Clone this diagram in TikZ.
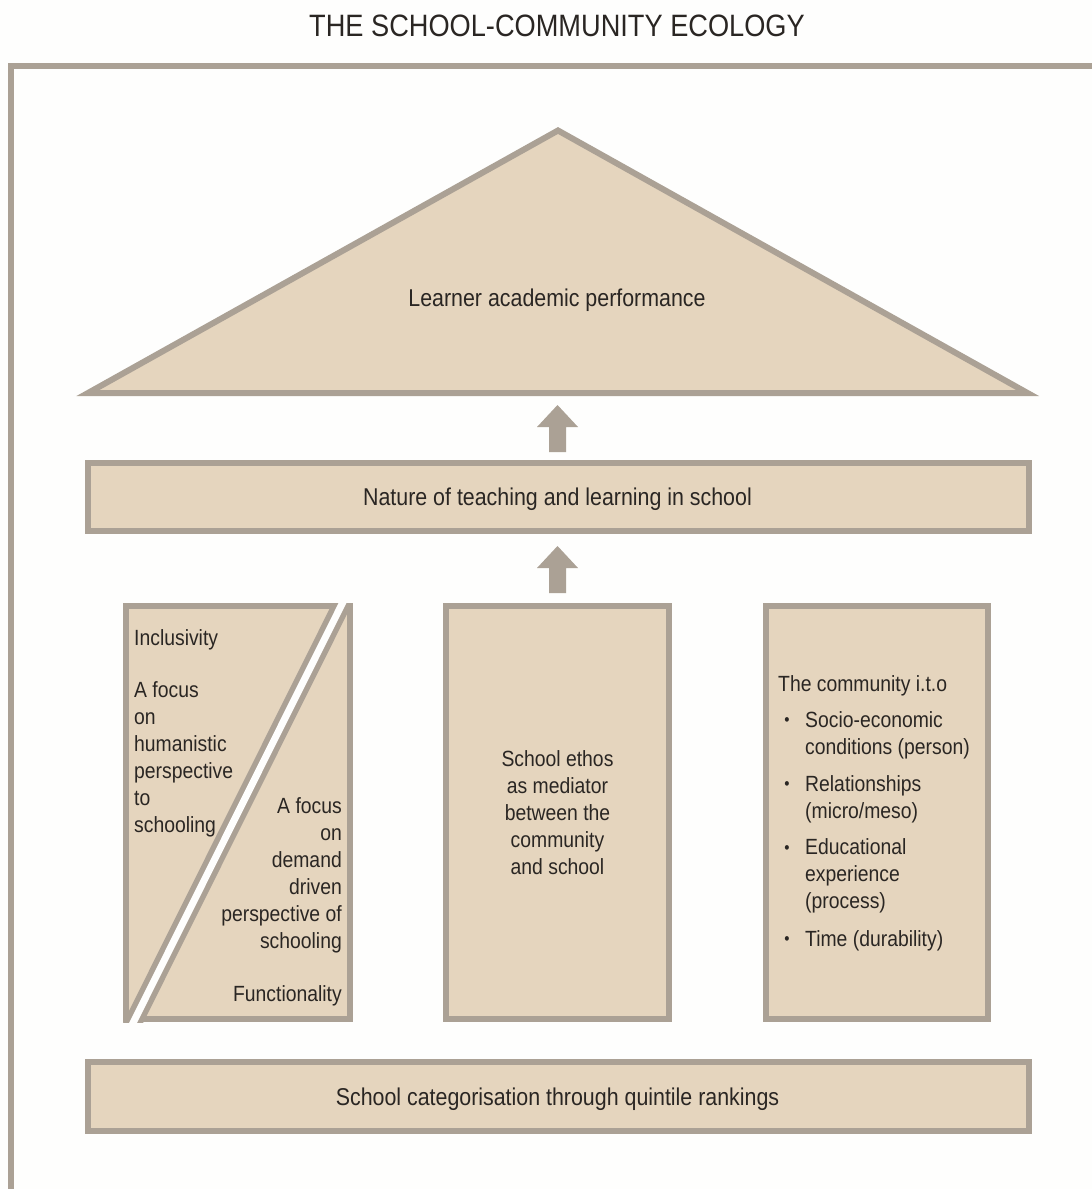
\documentclass[tikz,border=0pt]{standalone}
\usepackage{fontspec}
\setmainfont{Liberation Sans}[FakeStretch=0.88]
\usetikzlibrary{calc}
\definecolor{edgec}{RGB}{171,161,149}
\definecolor{fillc}{RGB}{229,213,190}
\definecolor{inkc}{RGB}{42,38,35}
\definecolor{paper}{RGB}{254,254,253}

% block arrow pointing up, from #1 (shaft foot) to #2 (tip)
\newcommand\upArrow[2]{%
  \fill[edgec] let \p1=(#1), \p2=(#2) in
    (\x1-8.5pt,\y1) -- (\x1+8.5pt,\y1) -- (\x1+8.5pt,\y2-22pt)
    -- (\x1+20.5pt,\y2-22pt) -- (\x1,\y2) -- (\x1-20.5pt,\y2-22pt)
    -- (\x1-8.5pt,\y2-22pt) -- cycle;}

\begin{document}
\begin{tikzpicture}[x=1pt,y=-1pt,
  panel/.style={draw=edgec, fill=fillc, line width=6pt, line join=miter, inner sep=0pt},
  txt/.style={inner sep=0pt, text=inkc, yshift=-2.5pt, font=\fontsize{22}{27}\selectfont},
  dot/.style={inner sep=0pt, text=inkc, yshift=-2.5pt, font=\fontsize{17}{20}\selectfont},
  headtxt/.style={inner sep=0pt, text=inkc, yshift=-2pt, font=\fontsize{24.3}{29}\selectfont},
  titletxt/.style={inner sep=0pt, text=inkc, font=\fontsize{30.9}{36}\selectfont}]

\useasboundingbox (0,0) rectangle (1092,1189);
\fill[paper] (0,0) rectangle (1092,1189);

% title and outer frame
\node[titletxt] (title) at (557,26) {THE SCHOOL-COMMUNITY ECOLOGY};
\draw[edgec, line width=6pt, line join=miter] (11,1200) -- (11,65.5) -- (1100,65.5);

% roof
\draw[edgec, fill=fillc, line width=6pt, line join=miter]
  (88,393) -- (558,130.5) -- (1027.5,393) -- cycle;
\node[headtxt] (roof) at (557,298) {Learner academic performance};
\coordinate (roofbase) at (557.5,396);

% beam
\node[panel, minimum width=941, minimum height=68] (nature) at (558.5,497) {};
\node[headtxt] (naturetxt) at (557.5,497) {Nature of teaching and learning in school};

% pillars
\node[panel, minimum width=223.5, minimum height=413] (lpillar) at (237.75,812.5) {};
\node[panel, minimum width=223, minimum height=413] (mpillar) at (557.5,812.5) {};
\node[panel, minimum width=222, minimum height=413] (rpillar) at (877,812.5) {};

% split of the left pillar
\begin{scope}
  \clip (lpillar.north west) rectangle (lpillar.south east);
  \draw[edgec, line width=18pt] (351,586) -- (125,1039);
  \draw[paper, line width=7pt] (351,586) -- (125,1039);
\end{scope}

% foundation
\node[panel, minimum width=941, minimum height=69] (base) at (558.5,1096.5) {};
\node[headtxt] (basetxt) at (557.5,1097) {School categorisation through quintile rankings};

% arrows
\coordinate (a1s) at ($(nature.north)+(-1,-8)$);
\coordinate (a1e) at ($(roofbase)+(0,9)$);
\upArrow{a1s}{a1e}
\coordinate (a2s) at ($(mpillar.north)+(0,-10)$);
\coordinate (a2e) at ($(nature.south)+(0,12)$);
\upArrow{a2s}{a2e}

% left pillar texts
\node[txt, anchor=west] (incl) at (134,637) {Inclusivity};
\node[txt, anchor=west, align=left] (human) at (134,757)
  {A focus\\on\\humanistic\\perspective\\to\\schooling};
\node[txt, anchor=east, align=right] (demand) at (342,873)
  {A focus\\on\\demand\\driven\\perspective of\\schooling};
\node[txt, anchor=east] (func) at (342,993) {Functionality};

% middle pillar text
\node[txt, align=center] (ethos) at (557.5,810.5)
  {School ethos\\as mediator\\between the\\community\\and school};

% right pillar texts
\node[txt, anchor=west] (comm) at (778,683) {The community i.t.o};
\node[dot] (b1) at (787,719) {•};
\node[dot] (b2) at (787,783) {•};
\node[dot] (b3) at (787,847) {•};
\node[dot] (b4) at (787,938) {•};
\node[txt, anchor=west, align=left] (i1) at (805,732.5) {Socio-economic\\conditions (person)};
\node[txt, anchor=west, align=left] (i2) at (805,796.5) {Relationships\\(micro/meso)};
\node[txt, anchor=west, align=left] (i3) at (805,873.5) {Educational\\experience\\(process)};
\node[txt, anchor=west] (i4) at (805,938) {Time (durability)};
\end{tikzpicture}
\end{document}
